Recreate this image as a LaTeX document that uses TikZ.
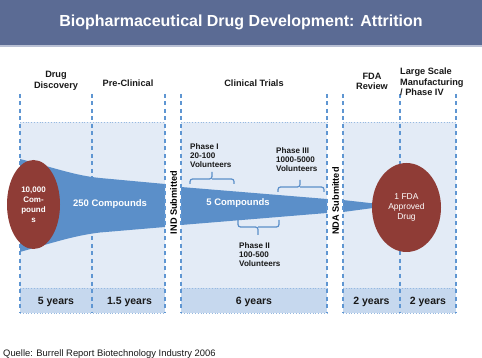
\documentclass[tikz,border=0pt]{standalone}
\usepackage{fontspec}
\setmainfont{Liberation Sans}
\usetikzlibrary{shapes.geometric}
\definecolor{hdr}{RGB}{91,107,148}
\definecolor{hdrline}{RGB}{185,192,212}
\definecolor{funnel}{RGB}{91,143,201}
\definecolor{boxfill}{RGB}{227,235,246}
\definecolor{bandfill}{RGB}{198,216,238}
\definecolor{dashcol}{RGB}{95,150,210}
\definecolor{edgecol}{RGB}{150,185,225}
\definecolor{dred}{RGB}{143,60,54}
\definecolor{txt}{RGB}{25,25,25}
\begin{document}
\begin{tikzpicture}[x=1pt,y=-1pt,
  vline/.style={draw=dashcol, line width=1.1pt, dash pattern=on 4pt off 3.5pt},
  boxedge/.style={draw=edgecol, line width=0.8pt, dotted},
  phasebox/.style={fill=boxfill},
  bandbox/.style={fill=bandfill},
  hdrtxt/.style={font=\bfseries\fontsize{9.2}{10.5}\selectfont, text=txt, align=center, inner sep=0},
  yrs/.style={font=\bfseries\fontsize{10.5}{12}\selectfont, text=txt, inner sep=0},
  innertxt/.style={font=\bfseries\fontsize{9.5}{11}\selectfont, text=white, inner sep=0},
  phase/.style={font=\bfseries\fontsize{8.1}{9}\selectfont, text=txt, align=left, inner sep=0, anchor=west},
  bracepath/.style={draw=funnel, line width=1.2pt, rounded corners=2.5pt},
  subm/.style={font=\bfseries\fontsize{9.2}{11}\selectfont, text=black, rotate=90, inner sep=0},
  blob/.style={ellipse, fill=dred, text=white, inner sep=0, align=center}
]
\useasboundingbox (0,0) rectangle (482,358);
\fill[white] (0,0) rectangle (482,358);
% header
\fill[hdr] (0,0) rectangle (482,45);
\fill[hdrline] (0,45) rectangle (482,47);
\node[font=\bfseries\fontsize{16}{19}\selectfont, text=white, inner sep=0] (title) at (241,22) {Biopharmaceutical Drug Development: Attrition};

% boxes
\path[phasebox] (20,122) rectangle (165,288);
\path[phasebox] (181,122) rectangle (327,288);
\path[phasebox] (343,122) rectangle (456,288);
\path[bandbox] (20,288) rectangle (165,313);
\path[bandbox] (181,288) rectangle (327,313);
\path[bandbox] (343,288) rectangle (456,313);
\foreach \a/\b in {20/165,181/327,343/456}{
  \draw[boxedge] (\a,122) -- (\b,122);
  \draw[boxedge] (\a,288) -- (\b,288);
  \draw[boxedge] (\a,313) -- (\b,313);
}
% vertical dashed lines behind the funnel
\foreach \x in {20,92,400,456}{
  \draw[vline] (\x,94) -- (\x,313);
}

% funnel
\fill[funnel] (20,159) .. controls (55,168) and (75,175.5) .. (100,178) -- (165,184)
  -- (165,227) -- (100,232.5) .. controls (75,235.5) and (55,242) .. (20,252) -- cycle;
\fill[funnel] (181,187) -- (327,199) -- (327,213) -- (181,225) -- cycle;
\fill[funnel] (343,200) -- (392,205.5) -- (343,212) -- cycle;

% boundary dashed lines
\foreach \x in {165,181,327,343}{
  \draw[vline] (\x,94) -- (\x,313);
}

% ellipses
\node[blob, minimum width=53pt, minimum height=89pt, font=\bfseries\fontsize{8}{10}\selectfont] (start) at (33.5,204.5) {10,000\\Com-\\pound\\s};
\node[blob, minimum width=69pt, minimum height=89pt, font=\fontsize{8.5}{9.6}\selectfont] (end) at (406.5,207.5) {1 FDA\\Approved\\Drug};

% funnel labels
\node[innertxt] (c250) at (110,204) {250 Compounds};
\node[innertxt] (c5) at (238,203) {5 Compounds};

% submitted labels
\node[subm] (ind) at (173.5,202.5) {IND Submitted};
\node[subm] (nda) at (335.5,201) {NDA Submitted};

% braces
\draw[bracepath] (190,184) -- (190,179) -- (212,179) -- (212,172);
\draw[bracepath] (212,179) -- (234,179) -- (234,184);
\draw[bracepath] (238,220) -- (238,227) -- (258,227) -- (258,235);
\draw[bracepath] (258,227) -- (279,227) -- (279,220);
\draw[bracepath] (278,192) -- (278,187) -- (300,187) -- (300,180);
\draw[bracepath] (300,187) -- (324,187) -- (324,192);

% phase labels
\node[phase] (p1) at (190,156) {Phase I\\20-100\\Volunteers};
\node[phase] (p3) at (276,159.5) {Phase III\\1000-5000\\Volunteers};
\node[phase] (p2) at (239,255) {Phase II\\100-500\\Volunteers};

% stage headers
\node[hdrtxt] (h1) at (56,81) {Drug\\Discovery};
\node[hdrtxt] (h2) at (128,83) {Pre-Clinical};
\node[hdrtxt] (h3) at (254,83) {Clinical Trials};
\node[hdrtxt] (h4) at (372,81.5) {FDA\\Review};
\node[hdrtxt, align=left, anchor=west] (h5) at (400,82) {Large Scale\\Manufacturing\\/ Phase IV};

% years
\node[yrs] (y1) at (56,302) {5 years};
\node[yrs] (y2) at (129.5,302) {1.5 years};
\node[yrs] (y3) at (254,302) {6 years};
\node[yrs] (y4) at (371.5,302) {2 years};
\node[yrs] (y5) at (428,302) {2 years};

% source
\node[font=\fontsize{9.4}{11}\selectfont, text=txt, inner sep=0, anchor=base west] (src) at (3,356.5) {Quelle: Burrell Report Biotechnology Industry 2006};
\end{tikzpicture}
\end{document}
